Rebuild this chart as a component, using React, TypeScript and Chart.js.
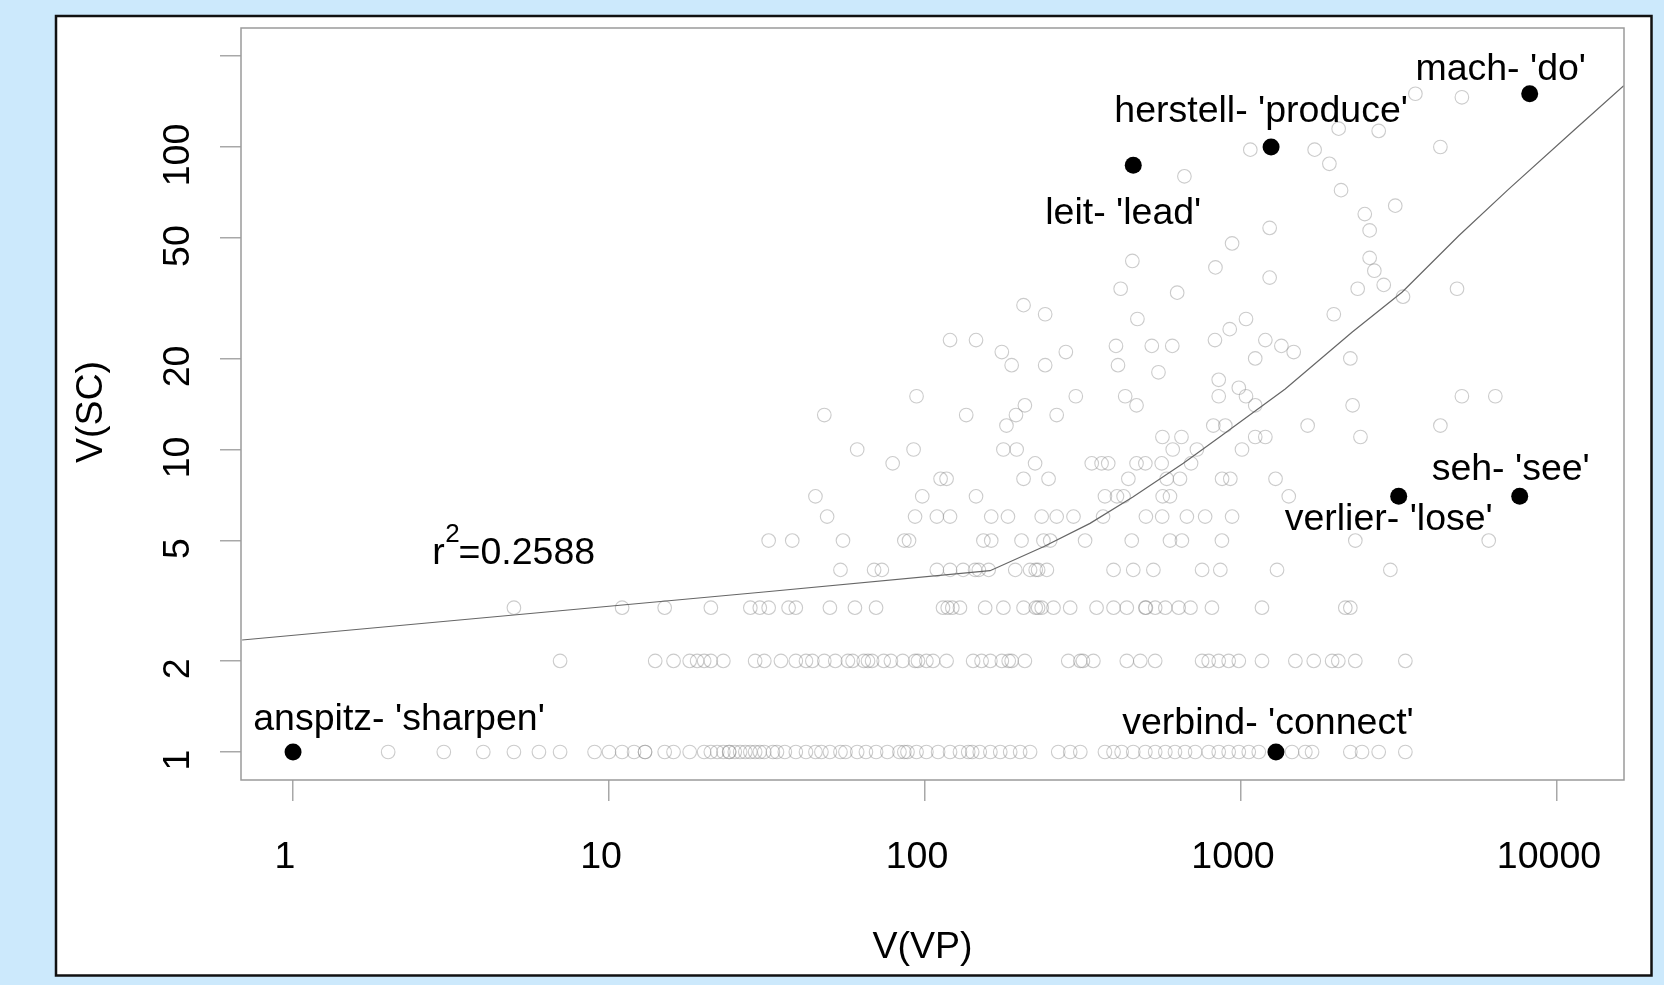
import React, { useEffect, useRef } from 'react';
import { Chart, registerables } from 'chart.js';

Chart.register(...registerables);

// ---- axes ----
const xTickValues = [1, 10, 100, 1000, 10000];
const xTickLabels = ['1', '10', '100', '1000', '10000'];
const yTickValues = [1, 2, 5, 10, 20, 50, 100, 200];
const yTickLabels = ['1', '2', '5', '10', '20', '50', '100', ''];
const xLimits = [0.6844, 16293];
const yLimits = [0.8081, 247.4];
const xTitle = 'V(VP)';
const yTitle = 'V(SC)';

// ---- grey points, by V(SC) row (values are V(VP)) ----
const row1VP = [2, 3, 4, 5, 6, 7, 9, 10, 11, 12, 13, 13, 15, 16, 18, 20, 21, 22, 23, 24, 24, 25, 26, 27, 28, 29, 30, 31, 33, 34, 36, 39, 42, 45, 47, 50, 54, 56, 61, 65, 70, 76, 83, 86, 88, 94, 101, 110, 120, 129, 137, 141, 149, 161, 173, 186, 200, 215, 264, 288, 310, 371, 395, 419, 456, 498, 535, 576, 618, 665, 716, 790, 850, 914, 984, 1058, 1138, 1450, 1598, 1678, 2218, 2415, 2727, 3312];
const row2VP = [7, 14, 16, 18, 19, 20, 21, 23, 29, 31, 35, 39, 42, 44, 48, 52, 57, 59, 64, 66, 68, 74, 78, 85, 93, 95, 101, 106, 117, 142, 151, 161, 175, 184, 188, 207, 284, 310, 316, 341, 435, 480, 535, 753, 790, 850, 914, 984, 1165, 1486, 1699, 1942, 2032, 2300, 3312];
const row3VP = [5, 11, 15, 21, 28, 30, 32, 37, 39, 50, 60, 70, 114, 118, 122, 129, 155, 177, 205, 224, 228, 234, 255, 288, 349, 395, 435, 498, 500, 535, 576, 635, 692, 809, 1165, 2138, 2218];
const row4VP = [54, 69, 73, 109, 120, 132, 144, 148, 159, 193, 215, 224, 228, 243, 395, 456, 528, 753, 860, 1300, 2969];
const row5VP = [32, 38, 55, 86, 89, 153, 162, 202, 237, 249, 321, 451, 596, 650, 870, 2300, 6080];
const row6VP = [49, 93, 109, 120, 162, 183, 234, 261, 295, 366, 500, 563, 674, 770, 937];
const row7VP = [45, 98, 145, 371, 405, 425, 565, 596, 1416];
const row8VP = [112, 117, 205, 246, 440, 582, 641, 871, 925, 1286];
const row9VP = [79, 223, 337, 362, 380, 467, 498, 561, 695];
const row10VP = [61, 92, 177, 195, 608, 725, 1007];

// ---- grey points above V(SC)=10 (paired) ----
const upperVP = [564, 648, 1109, 1194, 2388, 181, 817, 892, 1625, 4275, 48, 135, 194, 261, 207, 467, 1109, 2255, 94, 300, 430, 850, 1037, 5000, 6380, 984, 850, 548, 188, 240, 408, 1109, 2218, 175, 279, 1468, 402, 522, 606, 1342, 120, 145, 827, 1194, 921, 470, 1037, 240, 1966, 205, 3256, 628, 416, 2340, 4826, 2829, 1232, 2642, 830, 453, 2553, 937, 2553, 1232, 2464, 3077, 2073, 662, 1904, 1070, 1710, 4275, 2727, 2037, 5000, 3563];
const upperSC = [11, 11, 11, 11, 11, 12, 12, 12, 12, 12, 13, 13, 13, 13, 14, 14, 14, 14, 15, 15, 15, 15, 15, 15, 15, 16, 17, 18, 19, 19, 19, 20, 20, 21, 21, 21, 22, 22, 22, 22, 23, 23, 23, 23, 25, 27, 27, 28, 28, 30, 32, 33, 34, 34, 34, 35, 37, 39, 40, 42, 43, 48, 53, 54, 60, 64, 72, 80, 88, 98, 98, 100, 113, 115, 146, 150];

// ---- highlighted verbs ----
const highlightLabels = ["anspitz- 'sharpen'", "verbind- 'connect'", "leit- 'lead'", "herstell- 'produce'", "mach- 'do'", "verlier- 'lose'", "seh- 'see'"];
const highlightVP = [1, 1290, 456, 1245, 8196, 3155, 7620];
const highlightSC = [1, 1, 87, 100, 150, 7, 7];

// ---- smoother ----
const fitVP = [0.69, 30.9, 160.6, 237, 332.8, 456, 656.9, 858, 1380, 2245, 3232, 4887, 7032, 11430, 16260];
const fitSC = [2.346, 3.38, 3.975, 4.77, 5.7, 6.98, 9.0, 11.02, 15.85, 24.4, 33.1, 50.9, 72.6, 114.7, 159.4];

// ---- annotation text ----
const r2Text = '=0.2588';
const r2AnchorVP = 5;
const r2AnchorSC = 4.6;

// label placement (pixel offsets from point to text centre / baseline)
const labelDX = [106, -8, -10, -10, -29, -10, -9];
const labelDY = [-22, -18, 59, -25, -14, 34, -16];

const FONT = '"Liberation Sans", Arial, Helvetica, sans-serif';
const FS = 37.5;

export default function App() {
  const ref = useRef<HTMLCanvasElement | null>(null);

  useEffect(() => {
    document.body.style.margin = '0';
    const canvas = ref.current;
    if (!canvas) return;

    const greyPts: { x: number; y: number }[] = [];
    const rows = [row1VP, row2VP, row3VP, row4VP, row5VP, row6VP, row7VP, row8VP, row9VP, row10VP];
    rows.forEach((arr, i) => arr.forEach((x) => greyPts.push({ x, y: i + 1 })));
    upperVP.forEach((x, i) => greyPts.push({ x, y: upperSC[i] }));
    const fitPts = fitVP.map((x, i) => ({ x, y: fitSC[i] }));
    const hiPts = highlightVP.map((x, i) => ({ x, y: highlightSC[i] }));

    const decor = {
      id: 'rdecor',
      beforeDraw(chart: any) {
        const ctx = chart.ctx;
        ctx.save();
        ctx.fillStyle = '#cce9fc';
        ctx.fillRect(0, 0, chart.width, chart.height);
        ctx.fillStyle = '#ffffff';
        ctx.fillRect(56, 16, 1595.5, 959.5);
        ctx.lineWidth = 2.5;
        ctx.strokeStyle = '#111111';
        ctx.strokeRect(56, 16, 1595.5, 959.5);
        ctx.restore();
      },
      afterDraw(chart: any) {
        const { ctx, chartArea: a, scales } = chart;
        const xs = scales.x;
        const ys = scales.y;
        ctx.save();
        ctx.strokeStyle = '#9a9a9a';
        ctx.lineWidth = 1.5;
        ctx.strokeRect(a.left, a.top, a.right - a.left, a.bottom - a.top);

        ctx.fillStyle = '#000';
        ctx.font = `${FS}px ${FONT}`;
        ctx.textAlign = 'center';
        ctx.textBaseline = 'alphabetic';
        xTickValues.forEach((v, i) => {
          ctx.fillText(xTickLabels[i], xs.getPixelForValue(v) - 8, a.bottom + 88);
        });
        yTickValues.forEach((v, i) => {
          if (!yTickLabels[i]) return;
          ctx.save();
          ctx.translate(a.left - 52, ys.getPixelForValue(v) + 8);
          ctx.rotate(-Math.PI / 2);
          ctx.fillText(yTickLabels[i], 0, 0);
          ctx.restore();
        });
        ctx.fillText(xTitle, (a.left + a.right) / 2 - 10, a.bottom + 178);
        ctx.save();
        ctx.translate(a.left - 139, (a.top + a.bottom) / 2 + 8);
        ctx.rotate(-Math.PI / 2);
        ctx.fillText(yTitle, 0, 0);
        ctx.restore();

        highlightLabels.forEach((t, i) => {
          const px = xs.getPixelForValue(highlightVP[i]) + labelDX[i];
          const py = ys.getPixelForValue(highlightSC[i]) + labelDY[i];
          ctx.fillText(t, px, py);
        });

        const rx = xs.getPixelForValue(r2AnchorVP);
        const ry = ys.getPixelForValue(r2AnchorSC);
        ctx.textAlign = 'left';
        ctx.fillText('r', rx - 81.7, ry + 12.8);
        ctx.font = `26px ${FONT}`;
        ctx.fillText('2', rx - 68.7, ry - 9.8);
        ctx.font = `${FS}px ${FONT}`;
        ctx.fillText(r2Text, rx - 55.4, ry + 12.8);
        ctx.restore();
      },
    };

    const chart = new Chart(canvas, {
      type: 'scatter',
      data: {
        datasets: [
          {
            label: 'highlighted',
            data: hiPts,
            pointRadius: 8.5,
            pointBackgroundColor: '#000000',
            pointBorderColor: '#000000',
            pointBorderWidth: 0,
            order: 1,
          },
          {
            label: 'fit',
            data: fitPts,
            showLine: true,
            pointRadius: 0,
            borderColor: '#666666',
            borderWidth: 1.2,
            order: 2,
          },
          {
            label: 'verbs',
            data: greyPts,
            pointRadius: 6.8,
            pointBackgroundColor: 'rgba(0,0,0,0)',
            pointBorderColor: 'rgba(140,140,140,0.45)',
            pointBorderWidth: 1.1,
            order: 3,
          },
        ],
      },
      options: {
        animation: false,
        responsive: false,
        devicePixelRatio: 1,
        events: [],
        layout: { padding: { left: 0, top: 28, right: 40, bottom: 0 } },
        plugins: { legend: { display: false }, tooltip: { enabled: false } },
        scales: {
          x: {
            type: 'logarithmic',
            position: 'bottom',
            min: xLimits[0],
            max: xLimits[1],
            bounds: 'data',
            afterBuildTicks: (s: any) => {
              s.ticks = xTickValues.map((v) => ({ value: v }));
            },
            afterFit: (s: any) => {
              s.height = 205;
            },
            ticks: { display: false },
            border: { display: false },
            grid: { drawOnChartArea: false, drawTicks: true, tickLength: 21, color: '#a8a8a8', lineWidth: 1.5 },
          },
          y: {
            type: 'logarithmic',
            position: 'left',
            min: yLimits[0],
            max: yLimits[1],
            bounds: 'data',
            afterBuildTicks: (s: any) => {
              s.ticks = yTickValues.map((v) => ({ value: v }));
            },
            afterFit: (s: any) => {
              s.width = 241;
            },
            ticks: { display: false },
            border: { display: false },
            grid: { drawOnChartArea: false, drawTicks: true, tickLength: 21, color: '#a8a8a8', lineWidth: 1.5 },
          },
        },
      },
      plugins: [decor],
    } as any);

    return () => chart.destroy();
  }, []);

  return (
    <div style={{ position: 'fixed', left: 0, top: 0, width: 1664, height: 985 }}>
      <canvas ref={ref} width={1664} height={985} style={{ display: 'block', width: 1664, height: 985 }} />
    </div>
  );
}
